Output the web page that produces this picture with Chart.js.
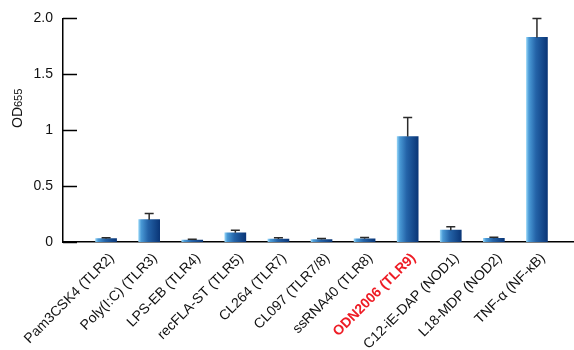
<!DOCTYPE html>
<html>
<head>
<meta charset="utf-8">
<script src="https://cdn.jsdelivr.net/npm/chart.js@4/dist/chart.umd.min.js"></script>
<style>
  html, body { margin: 0; padding: 0; background: #fff; }
  #wrap { width: 574px; height: 350px; }
</style>
</head>
<body>
<div id="wrap"><canvas id="chart" width="574" height="350"></canvas></div>
<script>
const labels = [
  "Pam3CSK4 (TLR2)", "Poly(I:C) (TLR3)", "LPS-EB (TLR4)", "recFLA-ST (TLR5)",
  "CL264 (TLR7)", "CL097 (TLR7/8)", "ssRNA40 (TLR8)", "ODN2006 (TLR9)",
  "C12-iE-DAP (NOD1)", "L18-MDP (NOD2)", "TNF-\u03b1 (NF-\u03baB)"
];
const values = [0.03, 0.20, 0.018, 0.082, 0.026, 0.022, 0.029, 0.943, 0.106, 0.033, 1.83];
const errors = [0.008, 0.055, 0.006, 0.022, 0.012, 0.009, 0.012, 0.17, 0.03, 0.009, 0.17];
const yTicks = [0, 0.5, 1, 1.5, 2];
const yTickLabels = ["0", "0.5", "1", "1.5", "2.0"];
const highlight = 7;

const FONT = "'Liberation Sans', Arial, sans-serif";

function barFill(c) {
  const chart = c.chart;
  if (!chart.chartArea || c.type !== "data") return "#1f5fa5";
  const x = chart.scales.x.getPixelForValue(c.dataIndex);
  const g = chart.ctx.createLinearGradient(x - 10.5, 0, x + 10.5, 0);
  g.addColorStop(0, "#8fd0f4");
  g.addColorStop(0.12, "#4a9ad6");
  g.addColorStop(0.45, "#2463a8");
  g.addColorStop(1, "#0a3677");
  return g;
}

// error bars (upper only)
const errorBars = {
  id: "errorBars",
  afterDatasetsDraw(chart) {
    const { ctx } = chart;
    const meta = chart.getDatasetMeta(0);
    const y = chart.scales.y;
    ctx.save();
    ctx.strokeStyle = "#2b2b2b";
    ctx.lineWidth = 1.5;
    meta.data.forEach((bar, i) => {
      const top = y.getPixelForValue(values[i] + errors[i]);
      ctx.beginPath();
      ctx.moveTo(bar.x, bar.y);
      ctx.lineTo(bar.x, top);
      ctx.moveTo(bar.x - 4.5, top);
      ctx.lineTo(bar.x + 4.5, top);
      ctx.stroke();
    });
    ctx.restore();
  },
};

// inward tick marks and OD655 title
const axisExtras = {
  id: "axisExtras",
  afterDraw(chart) {
    const { ctx, chartArea } = chart;
    const y = chart.scales.y;
    ctx.save();
    ctx.strokeStyle = "#000";
    ctx.lineWidth = 1.5;
    yTicks.forEach((v) => {
      const py = Math.round(y.getPixelForValue(v)) + 0.5;
      ctx.beginPath();
      ctx.moveTo(chartArea.left, py);
      ctx.lineTo(chartArea.left + 14, py);
      ctx.stroke();
    });

    ctx.translate(22, 128);
    ctx.rotate(-Math.PI / 2);
    ctx.fillStyle = "#111";
    ctx.textBaseline = "alphabetic";
    ctx.textAlign = "left";
    ctx.font = "14px " + FONT;
    ctx.fillText("OD", 0, 0);
    const w = ctx.measureText("OD").width;
    ctx.font = "11px " + FONT;
    ctx.fillText("655", w, 0);
    ctx.restore();
  },
};

new Chart(document.getElementById("chart"), {
  type: "bar",
  data: {
    datasets: [
      {
        data: values.map((v, i) => ({ x: i, y: v })),
        backgroundColor: barFill,
        borderWidth: 0,
        barThickness: 21,
      },
    ],
  },
  options: {
    responsive: false,
    animation: false,
    layout: { padding: { top: 15, left: 0, right: 0, bottom: 0 } },
    plugins: {
      legend: { display: false },
      tooltip: { enabled: false },
    },
    scales: {
      x: {
        type: "linear",
        offset: false,
        min: -1,
        max: 10.86,
        grid: { display: false, drawTicks: false },
        border: { display: true, color: "#000", width: 1.5 },
        afterBuildTicks(scale) {
          scale.ticks = labels.map((_, i) => ({ value: i }));
        },
        afterFit(scale) {
          scale.height = 108;
          scale.paddingLeft = 0;
          scale.paddingRight = 0;
        },
        ticks: {
          autoSkip: false,
          minRotation: 45,
          maxRotation: 45,
          padding: 8,
          labelOffset: 6,
          color: (c) => (c.index === highlight ? "#ee1c25" : "#111"),
          font: (c) => ({
            family: FONT,
            size: 14,
            weight: c.index === highlight ? "bold" : "normal",
          }),
          callback: (v) => labels[v] ?? "",
        },
      },
      y: {
        min: 0,
        max: 2,
        grid: { display: false, drawTicks: false },
        border: { display: true, color: "#000", width: 1.5 },
        afterBuildTicks(scale) {
          scale.ticks = yTicks.map((v) => ({ value: v }));
        },
        afterFit(scale) {
          scale.width = 63;
        },
        ticks: {
          padding: 10,
          color: "#111",
          font: { family: FONT, size: 14 },
          callback: (v) => yTickLabels[yTicks.indexOf(v)],
        },
      },
    },
  },
  plugins: [errorBars, axisExtras],
});
</script>
</body>
</html>
